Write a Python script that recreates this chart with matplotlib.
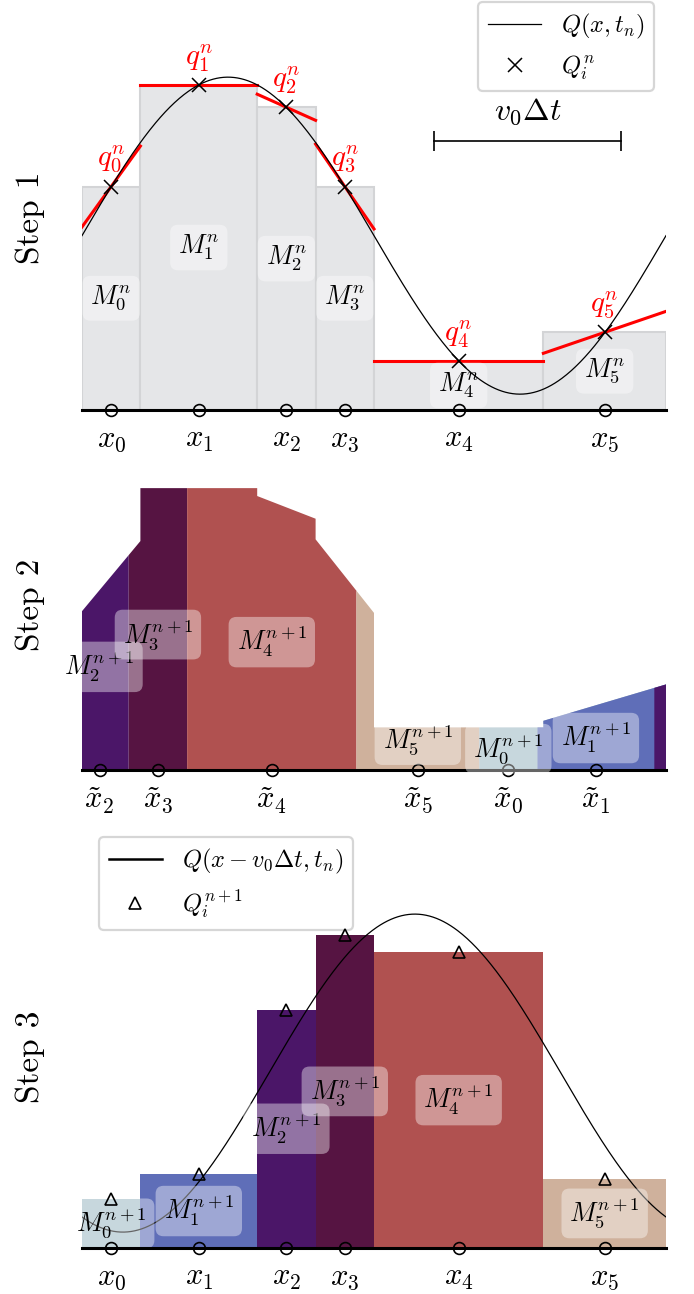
import numpy as np
import matplotlib
matplotlib.use("Agg")
import matplotlib.pyplot as plt

plt.rcParams['mathtext.fontset'] = 'cm'
plt.rcParams['font.family'] = 'serif'
plt.rcParams['font.serif'] = ['cmr10']
plt.rcParams['axes.formatter.use_mathtext'] = True

# grid (cell edges on [0, 1]) and values
edges = [0.0, 0.1, 0.3, 0.4, 0.5, 0.79, 1.0]
centers = [0.05, 0.2, 0.35, 0.45, 0.645, 0.895]
M_old = [1.41, 2.05, 1.91, 1.41, 0.31, 0.49]
slopes = [5.1, 0.0, -1.65, -5.35, 0.0, 1.26]
M_new = [0.31, 0.465, 1.5, 1.97, 1.86, 0.435]
shift = 0.32  # v0 * dt
Q_offset = 1.1
Q_amp = 1.0

cell_colors = ['#a3bdc8', '#5f6eb8', '#4b1668', '#561442', '#b05150', '#cfb19c']
x_labels = [r'$x_{%d}$' % i for i in range(6)]
xt_labels = [r'$\tilde{x}_{%d}$' % i for i in range(6)]

W, H = 694, 1294
fig = plt.figure(figsize=(W / 100, H / 100), dpi=100)

def add_ax(top, bottom, base, scale):
  ax = fig.add_axes([82 / W, 1 - bottom / H, 584 / W, (bottom - top) / H])
  ax.set_xlim(0, 1)
  ax.set_ylim(-(bottom - base) / scale, (base - top) / scale)
  for s in ax.spines.values():
    s.set_visible(False)
  ax.set_yticks([])
  ax.tick_params(axis='x', length=0, labelsize=22, pad=3)
  return ax

def recon(x, i):
  return M_old[i] + slopes[i] * (x - centers[i])

def label_box():
  return dict(boxstyle='round,pad=0.3', fc='white', ec='none', alpha=0.4)

curve_x = np.linspace(0, 1, 500)

### Step 1 ###
ax1 = add_ax(0, 422, 410, 158.5)
for i in range(6):
  ax1.bar(edges[i], M_old[i], width=edges[i + 1] - edges[i], align='edge',
          color='#e5e6e8', edgecolor='#d3d4d6', linewidth=1.5, zorder=1)
  xs = np.array([edges[i], edges[i + 1]])
  ax1.plot(xs, recon(xs, i), color='red', lw=2.2, zorder=3)
  ax1.text(centers[i], M_old[i] + 0.17, r'$q_{%d}^n$' % i, color='red',
           fontsize=21, ha='center', va='center', zorder=5)
  ax1.text(centers[i], M_old[i] / 2, r'$M_{%d}^n$' % i, fontsize=19,
           ha='center', va='center', bbox=label_box(), zorder=4)
ax1.plot(curve_x, Q_offset + Q_amp * np.sin(2 * np.pi * curve_x), color='black',
         lw=0.9, zorder=4, label=r'$Q(x,t_n)$')
ax1.plot(centers, M_old, 'x', color='black', ms=10, mew=1.1, zorder=6,
         label=r'$Q_i^n$')
ax1.plot([0, 1], [0, 0], color='black', lw=2.2, zorder=6, clip_on=False)
ax1.plot(centers, [0] * 6, 'o', mfc='none', mec='black', ms=8.5, mew=1.2,
         zorder=7, clip_on=False)
ax1.plot([0.603, 0.603 + shift], [1.70, 1.70], color='black', lw=1.2,
         marker='|', ms=15, mew=1.2)
ax1.text(0.603 + shift / 2, 1.88, r'$v_0\Delta t$', fontsize=23,
         ha='center', va='center')
ax1.set_xticks(centers, x_labels)
leg1 = ax1.legend(loc='upper right', bbox_to_anchor=(1 - 10 / 584, 1.0),
                  fontsize=17.5, borderaxespad=0.1, handlelength=2.2,
                  framealpha=1, fancybox=True)
leg1.get_frame().set_edgecolor('#d6d6d6')
leg1.get_frame().set_linewidth(1.6)

### Step 2 ###
ax2 = add_ax(478, 782, 770, 137.5)
tilde = []
for j in range(6):
  lo, hi = edges[j] - shift, edges[j + 1] - shift
  pieces = [(lo, hi)] if lo >= 0 else [(lo + 1, 1.0), (0.0, hi)]
  for a, b in pieces:
    pts = [(a, 0.0)]
    for i in range(6):
      l, h = max(a, edges[i]), min(b, edges[i + 1])
      if l < h:
        pts += [(l, recon(l, i)), (h, recon(h, i))]
    pts.append((b, 0.0))
    px, py = zip(*pts)
    ax2.fill(px, py, color=cell_colors[j], lw=0, zorder=1)
  xt = (centers[j] - shift) % 1
  tilde.append(xt)
  ax2.text(xt, M_new[j] / 2, r'$M_{%d}^{n+1}$' % j, fontsize=19,
           ha='center', va='center', bbox=label_box(), zorder=5)
ax2.plot([0, 1], [0, 0], color='black', lw=2.2, zorder=3, clip_on=False)
ax2.plot(tilde, [0] * 6, 'o', mfc='none', mec='black', ms=8.5, mew=1.2,
         zorder=4, clip_on=False)
ax2.set_xticks(tilde, xt_labels)

### Step 3 ###
ax3 = add_ax(832, 1260, 1248, 159)
for j in range(6):
  ax3.bar(edges[j], M_new[j], width=edges[j + 1] - edges[j], align='edge',
          color=cell_colors[j], lw=0, zorder=1)
  ax3.text(centers[j], M_new[j] / 2, r'$M_{%d}^{n+1}$' % j, fontsize=19,
           ha='center', va='center', bbox=label_box(), zorder=5)
ax3.plot(curve_x, Q_offset + Q_amp * np.sin(2 * np.pi * (curve_x - shift)),
         color='black', lw=0.9, zorder=4, label=r'$Q(x-v_0\Delta t,t_n)$')
ax3.plot(centers, M_new, '^', mfc='none', mec='black', ms=8.5, mew=1.2,
         zorder=6, label=r'$Q_i^{n+1}$')
ax3.plot([0, 1], [0, 0], color='black', lw=2.2, zorder=6, clip_on=False)
ax3.plot(centers, [0] * 6, 'o', mfc='none', mec='black', ms=8.5, mew=1.2,
         zorder=7, clip_on=False)
ax3.set_xticks(centers, x_labels)
leg3 = ax3.legend(loc='upper left', bbox_to_anchor=(12 / 584, 1.0),
                  fontsize=17.5, borderaxespad=0.2, handlelength=2.2,
                  framealpha=1, fancybox=True)
leg3.get_frame().set_edgecolor('#d6d6d6')
leg3.get_frame().set_linewidth(1.6)
leg3.get_lines()[0].set_linewidth(1.8)

for y, s in [(218, 'Step 1'), (605, 'Step 2'), (1057, 'Step 3')]:
  fig.text(30 / W, 1 - y / H, s, fontsize=24, rotation=90, ha='center',
           va='center')

fig.savefig('out.png', dpi=100)
